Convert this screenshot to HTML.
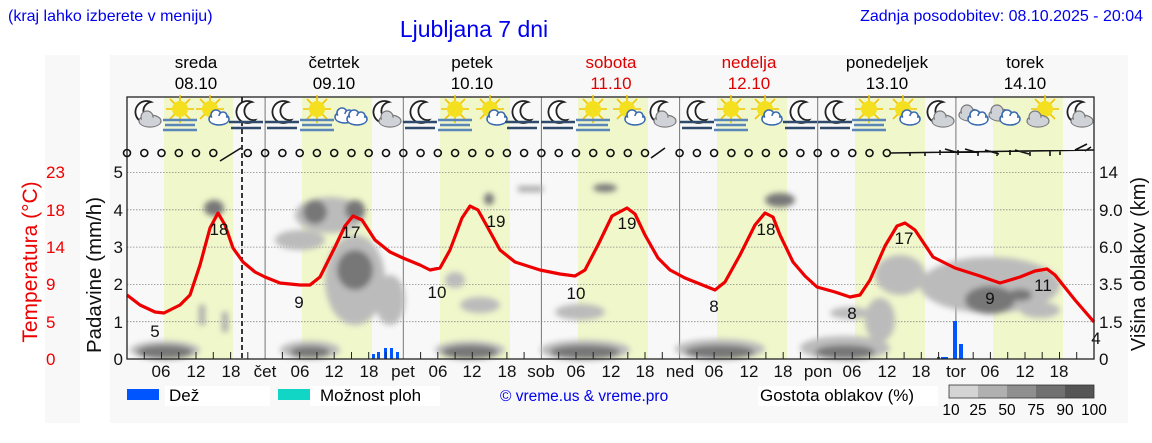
<!DOCTYPE html>
<html><head><meta charset="utf-8"><style>
body{margin:0;background:#fff;}
svg{display:block;font-family:"Liberation Sans",sans-serif;}
</style></head><body>
<svg width="1152" height="443" viewBox="0 0 1152 443" xmlns="http://www.w3.org/2000/svg">
<defs>
<filter id="bl" x="-50%" y="-50%" width="200%" height="200%"><feGaussianBlur stdDeviation="3"/></filter>
<g id="moon"><path d="M6,-11 A11,11 0 1 0 9,7 A9,9 0 1 1 6,-11 Z" fill="#fff" stroke="#222" stroke-width="1.8"/></g>
<g id="sun"><g stroke="#f2c500" stroke-width="1.6"><line x1="0" y1="-14" x2="0" y2="14"/><line x1="-14" y1="0" x2="14" y2="0"/><line x1="-10" y1="-10" x2="10" y2="10"/><line x1="-10" y1="10" x2="10" y2="-10"/></g><circle r="8" fill="#f5e020"/></g>
<g id="cl"><ellipse cx="0" cy="0" rx="10" ry="6" fill="#fff" stroke="#3a6ab0" stroke-width="1.6"/><circle cx="-3" cy="-4" r="5" fill="#fff" stroke="#3a6ab0" stroke-width="1.6"/><circle cx="4" cy="-3" r="4" fill="#fff" stroke="#3a6ab0" stroke-width="1.6"/><ellipse cx="0" cy="1" rx="9" ry="4" fill="#fff"/></g>
<g id="gcl"><ellipse cx="0" cy="0" rx="11" ry="6" fill="#cfd3d8" stroke="#777" stroke-width="1.2"/><circle cx="-3" cy="-4" r="6" fill="#cfd3d8" stroke="#777" stroke-width="1.2"/><ellipse cx="0" cy="1" rx="10" ry="4.5" fill="#cfd3d8"/></g>
<g id="fog"><g stroke="#5b86b8" stroke-width="2.5"><line x1="-17" y1="0" x2="17" y2="0"/><line x1="-15" y1="5" x2="15" y2="5"/><line x1="-17" y1="10" x2="17" y2="10"/></g></g>
<g id="nfog"><g stroke="#2f4a6b" stroke-width="2.5"><line x1="-17" y1="0" x2="17" y2="0"/><line x1="-15" y1="6" x2="15" y2="6"/></g></g>
</defs>
<rect width="1152" height="443" fill="#fff"/>
<rect x="45" y="55" width="35" height="368" fill="#f8f8f8"/>
<rect x="110" y="55" width="1018" height="368" fill="#f8f8f8"/>
<text x="8" y="21" font-size="16" fill="#0000ee">(kraj lahko izberete v meniju)</text>
<text x="474" y="37" font-size="23" fill="#0000ee" text-anchor="middle">Ljubljana 7 dni</text>
<text x="1143" y="21" font-size="16" fill="#0000ee" text-anchor="end">Zadnja posodobitev: 08.10.2025 - 20:04</text>
<g font-size="17" text-anchor="middle">
<text x="196" y="68">sreda</text><text x="196" y="89">08.10</text>
<text x="334" y="68">četrtek</text><text x="334" y="89">09.10</text>
<text x="472" y="68">petek</text><text x="472" y="89">10.10</text>
<text x="611" y="68" fill="#dd0000">sobota</text><text x="611" y="89" fill="#dd0000">11.10</text>
<text x="749" y="68" fill="#dd0000">nedelja</text><text x="749" y="89" fill="#dd0000">12.10</text>
<text x="887" y="68">ponedeljek</text><text x="887" y="89">13.10</text>
<text x="1025" y="68">torek</text><text x="1025" y="89">14.10</text>
</g>
<g fill="#f0f7cb">
<rect x="164" y="97" width="69" height="262"/><rect x="302" y="97" width="70" height="262"/>
<rect x="440" y="97" width="70" height="262"/><rect x="578" y="97" width="70" height="262"/>
<rect x="717" y="97" width="70" height="262"/><rect x="855" y="97" width="70" height="262"/>
<rect x="993" y="97" width="70" height="262"/>
</g>
<g stroke="#888" stroke-width="0.8" stroke-dasharray="1.5,1.5">
<line x1="127" x2="1094" y1="172.5" y2="172.5"/><line x1="127" x2="1094" y1="209.8" y2="209.8"/>
<line x1="127" x2="1094" y1="247.1" y2="247.1"/><line x1="127" x2="1094" y1="284.4" y2="284.4"/>
<line x1="127" x2="1094" y1="321.7" y2="321.7"/>
</g>
<g stroke="#777" stroke-width="1">
<line x1="265.1" x2="265.1" y1="97" y2="359"/><line x1="403.3" x2="403.3" y1="97" y2="359"/>
<line x1="541.4" x2="541.4" y1="97" y2="359"/><line x1="679.6" x2="679.6" y1="97" y2="359"/>
<line x1="817.7" x2="817.7" y1="97" y2="359"/><line x1="955.9" x2="955.9" y1="97" y2="359"/>
</g>
<g filter="url(#bl)">
<g fill="#bbb">
<ellipse cx="165" cy="350" rx="35" ry="9"/><ellipse cx="310" cy="350" rx="30" ry="9"/>
<ellipse cx="470" cy="350" rx="35" ry="9"/><ellipse cx="585" cy="350" rx="45" ry="10"/>
<ellipse cx="720" cy="349" rx="45" ry="10"/><ellipse cx="845" cy="348" rx="45" ry="12"/>
<ellipse cx="330" cy="215" rx="35" ry="18"/><ellipse cx="300" cy="240" rx="25" ry="10"/>
<ellipse cx="355" cy="280" rx="30" ry="45"/><ellipse cx="390" cy="300" rx="15" ry="25"/>
<ellipse cx="990" cy="285" rx="70" ry="28"/><ellipse cx="900" cy="275" rx="25" ry="20"/>
<ellipse cx="1040" cy="310" rx="20" ry="8"/><ellipse cx="880" cy="320" rx="15" ry="22"/>
<ellipse cx="850" cy="313" rx="20" ry="6"/><ellipse cx="480" cy="305" rx="20" ry="8"/>
<ellipse cx="580" cy="312" rx="25" ry="8"/><ellipse cx="455" cy="280" rx="10" ry="8"/>
</g>
<g fill="#777">
<ellipse cx="165" cy="352" rx="28" ry="7"/><ellipse cx="310" cy="352" rx="20" ry="6"/>
<ellipse cx="470" cy="352" rx="28" ry="7"/><ellipse cx="585" cy="352" rx="35" ry="7"/>
<ellipse cx="720" cy="352" rx="35" ry="7"/><ellipse cx="845" cy="352" rx="30" ry="7"/>
<ellipse cx="214" cy="208" rx="10" ry="8"/><ellipse cx="315" cy="212" rx="12" ry="12"/>
<ellipse cx="355" cy="210" rx="10" ry="10"/><ellipse cx="355" cy="270" rx="18" ry="20"/>
<ellipse cx="990" cy="300" rx="25" ry="14"/><ellipse cx="1020" cy="295" rx="12" ry="6"/>
<ellipse cx="780" cy="200" rx="15" ry="7"/><ellipse cx="605" cy="188" rx="12" ry="4"/>
<ellipse cx="489" cy="199" rx="5" ry="6"/>
</g>
<g fill="#aaa"><rect x="199" y="305" width="6" height="20"/><rect x="222" y="312" width="6" height="20"/><rect x="518" y="186" width="25" height="6"/></g>
</g>
<g fill="#0055ff">
<rect x="372" y="354" width="3" height="5"/><rect x="377" y="352" width="3" height="7"/><rect x="384" y="348" width="3" height="11"/><rect x="390" y="348" width="3" height="11"/><rect x="396" y="352" width="3" height="7"/>
<rect x="937" y="357" width="3" height="2"/><rect x="941" y="357" width="4" height="2"/><rect x="945" y="357" width="3" height="2"/>
<rect x="953" y="321" width="4" height="38"/><rect x="959" y="344" width="4" height="15"/>
</g>
<line x1="242" x2="242" y1="97" y2="359" stroke="#222" stroke-width="1.8" stroke-dasharray="5,3"/>
<path d="M127,295 L140,305 L155,312 L164,313 L180,305 L190,295 L200,265 L210,228 L218,213 L225,225 L233,248 L243,262 L255,272 L265,277 L280,283 L300,285 L310,285 L320,277 L335,247 L345,226 L353,216 L362,220 L375,240 L390,252 L403,258 L420,265 L430,270 L440,268 L450,250 L462,218 L470,206 L478,210 L488,228 L500,250 L515,262 L540,270 L560,274 L575,276 L585,270 L598,245 L612,216 L627,208 L635,214 L645,235 L658,258 L670,270 L685,278 L700,284 L715,290 L725,282 L740,255 L755,225 L765,213 L773,217 L780,235 L793,262 L805,276 L817,287 L835,292 L850,297 L860,295 L870,280 L885,246 L897,226 L905,223 L915,230 L933,257 L955,268 L980,276 L1000,283 L1020,277 L1035,271 L1047,269 L1055,275 L1075,300 L1094,322" fill="none" stroke="#ee0000" stroke-width="3.2" stroke-linejoin="round"/>
<g font-size="17" fill="#111" text-anchor="middle">
<text x="155" y="337">5</text><text x="219" y="235">18</text><text x="299" y="308">9</text>
<text x="351" y="238">17</text><text x="437" y="298">10</text><text x="496" y="227">19</text>
<text x="576" y="299">10</text><text x="627" y="229">19</text><text x="714" y="312">8</text>
<text x="766" y="235">18</text><text x="852" y="319">8</text><text x="904" y="244">17</text>
<text x="990" y="304">9</text><text x="1043" y="291">11</text><text x="1096" y="344">4</text>
</g>
<rect x="127" y="97" width="967" height="262" fill="none" stroke="#222" stroke-width="1.3"/>
<g stroke="#222" stroke-width="1">
<path d="M144.3,359v-7M161.5,359v-7M178.8,359v-7M196,359v-7M213.3,359v-7M230.6,359v-7M247.8,359v-7M282.4,359v-7M299.7,359v-7M316.9,359v-7M334.2,359v-7M351.5,359v-7M368.7,359v-7M386,359v-7M420.6,359v-7M437.8,359v-7M455.1,359v-7M472.3,359v-7M489.6,359v-7M506.9,359v-7M524.1,359v-7M558.7,359v-7M576,359v-7M593.2,359v-7M610.5,359v-7M627.8,359v-7M645,359v-7M662.3,359v-7M696.9,359v-7M714.1,359v-7M731.4,359v-7M748.6,359v-7M765.9,359v-7M783.2,359v-7M800.4,359v-7M835,359v-7M852.3,359v-7M869.5,359v-7M886.8,359v-7M904.1,359v-7M921.3,359v-7M938.6,359v-7M973.2,359v-7M990.4,359v-7M1007.7,359v-7M1025,359v-7M1042.2,359v-7M1059.5,359v-7M1076.7,359v-7"/>
</g>
<g font-size="17" text-anchor="middle" fill="#111">
<text x="161" y="377">06</text><text x="196" y="377">12</text><text x="231" y="377">18</text><text x="265" y="377">čet</text>
<text x="300" y="377">06</text><text x="334" y="377">12</text><text x="369" y="377">18</text><text x="403" y="377">pet</text>
<text x="438" y="377">06</text><text x="472" y="377">12</text><text x="507" y="377">18</text><text x="541" y="377">sob</text>
<text x="576" y="377">06</text><text x="611" y="377">12</text><text x="645" y="377">18</text><text x="680" y="377">ned</text>
<text x="714" y="377">06</text><text x="749" y="377">12</text><text x="783" y="377">18</text><text x="818" y="377">pon</text>
<text x="852" y="377">06</text><text x="887" y="377">12</text><text x="921" y="377">18</text><text x="956" y="377">tor</text>
<text x="990" y="377">06</text><text x="1025" y="377">12</text><text x="1059" y="377">18</text>
</g>
<g font-size="17" fill="#111" text-anchor="end">
<text x="123" y="365">0</text><text x="123" y="328">1</text><text x="123" y="290">2</text>
<text x="123" y="253">3</text><text x="123" y="216">4</text><text x="123" y="178">5</text>
</g>
<g font-size="17" fill="#ee0000" text-anchor="start">
<text x="46" y="365">0</text><text x="46" y="328">5</text><text x="46" y="290">9</text>
<text x="46" y="253">14</text><text x="46" y="216">18</text><text x="46" y="178">23</text>
</g>
<text transform="translate(37,262) rotate(-90)" font-size="21" fill="#ee0000" text-anchor="middle">Temperatura (°C)</text>
<text transform="translate(101,275) rotate(-90)" font-size="20.5" fill="#111" text-anchor="middle">Padavine (mm/h)</text>
<g font-size="17" fill="#111" text-anchor="start">
<text x="1099" y="365">0</text><text x="1099" y="328">1.5</text><text x="1099" y="290">3.5</text>
<text x="1099" y="253">6.0</text><text x="1099" y="216">9.0</text><text x="1099" y="178">14</text>
</g>
<text transform="translate(1145,264) rotate(-90)" font-size="20" fill="#111" text-anchor="middle">Višina oblakov (km)</text>
<g fill="none" stroke="#111" stroke-width="1.6">
<circle cx="127" cy="153" r="3.5"/><circle cx="144.3" cy="153" r="3.5"/><circle cx="161.5" cy="153" r="3.5"/><circle cx="178.8" cy="153" r="3.5"/><circle cx="196" cy="153" r="3.5"/><circle cx="213.3" cy="153" r="3.5"/>
<circle cx="247.8" cy="153" r="3.5"/><circle cx="265.1" cy="153" r="3.5"/><circle cx="282.4" cy="153" r="3.5"/><circle cx="299.7" cy="153" r="3.5"/><circle cx="316.9" cy="153" r="3.5"/><circle cx="334.2" cy="153" r="3.5"/><circle cx="351.5" cy="153" r="3.5"/><circle cx="368.7" cy="153" r="3.5"/><circle cx="386" cy="153" r="3.5"/><circle cx="403.3" cy="153" r="3.5"/><circle cx="420.6" cy="153" r="3.5"/><circle cx="437.8" cy="153" r="3.5"/><circle cx="455.1" cy="153" r="3.5"/><circle cx="472.3" cy="153" r="3.5"/><circle cx="489.6" cy="153" r="3.5"/><circle cx="506.9" cy="153" r="3.5"/><circle cx="524.1" cy="153" r="3.5"/><circle cx="541.4" cy="153" r="3.5"/><circle cx="558.7" cy="153" r="3.5"/><circle cx="576" cy="153" r="3.5"/><circle cx="593.2" cy="153" r="3.5"/><circle cx="610.5" cy="153" r="3.5"/><circle cx="627.8" cy="153" r="3.5"/><circle cx="645" cy="153" r="3.5"/>
<circle cx="679.6" cy="153" r="3.5"/><circle cx="696.9" cy="153" r="3.5"/><circle cx="714.1" cy="153" r="3.5"/><circle cx="731.4" cy="153" r="3.5"/><circle cx="748.6" cy="153" r="3.5"/><circle cx="765.9" cy="153" r="3.5"/><circle cx="783.2" cy="153" r="3.5"/><circle cx="800.4" cy="153" r="3.5"/><circle cx="817.7" cy="153" r="3.5"/><circle cx="835" cy="153" r="3.5"/><circle cx="852.3" cy="153" r="3.5"/><circle cx="869.5" cy="153" r="3.5"/><circle cx="886.8" cy="153" r="3.5"/>
<path d="M220,161 L241,148 M651,158 L665,148 M890,153 L1094,150 M910,152v4 M925,152v4 M940,150v5 M945,149 l14,4 M958,150v5 M965,149 l14,4 M978,151v5 M985,150 l14,4 M997,151v5 M1010,150v5 M1015,150 l14,4 M1030,151v5 M1050,151v5 M1060,150v5 M1075,150 l12,-6 M1085,151 l6,-4"/>
</g>
<g>
<use href="#moon" x="145" y="113"/><use href="#gcl" x="150" y="121"/>
<use href="#sun" x="180" y="109"/><use href="#fog" x="180" y="120"/>
<use href="#sun" x="210" y="109"/><use href="#cl" x="219" y="119"/>
<use href="#moon" x="246" y="113"/><use href="#nfog" x="246" y="122"/>
<use href="#moon" x="282" y="113"/><use href="#nfog" x="282" y="122"/>
<use href="#sun" x="317" y="109"/><use href="#fog" x="317" y="120"/>
<use href="#cl" x="345" y="117"/><use href="#cl" x="357" y="119"/>
<use href="#moon" x="383" y="113"/><use href="#gcl" x="390" y="121"/>
<use href="#moon" x="420" y="113"/><use href="#nfog" x="420" y="122"/>
<use href="#sun" x="455" y="109"/><use href="#fog" x="455" y="120"/>
<use href="#sun" x="490" y="109"/><use href="#cl" x="497" y="119"/>
<use href="#moon" x="522" y="113"/><use href="#nfog" x="522" y="122"/>
<use href="#moon" x="558" y="113"/><use href="#nfog" x="558" y="122"/>
<use href="#sun" x="593" y="109"/><use href="#fog" x="593" y="120"/>
<use href="#sun" x="627" y="109"/><use href="#cl" x="635" y="119"/>
<use href="#moon" x="660" y="113"/><use href="#gcl" x="665" y="121"/>
<use href="#moon" x="697" y="113"/><use href="#nfog" x="697" y="122"/>
<use href="#sun" x="731" y="109"/><use href="#fog" x="731" y="120"/>
<use href="#sun" x="765" y="109"/><use href="#cl" x="772" y="119"/>
<use href="#moon" x="800" y="113"/><use href="#nfog" x="800" y="122"/>
<use href="#moon" x="835" y="113"/><use href="#nfog" x="835" y="122"/>
<use href="#sun" x="869" y="109"/><use href="#fog" x="869" y="120"/>
<use href="#sun" x="903" y="109"/><use href="#cl" x="910" y="119"/>
<use href="#moon" x="937" y="113"/><use href="#gcl" x="943" y="121"/>
<use href="#gcl" x="970" y="115"/><use href="#cl" x="978" y="119"/>
<use href="#gcl" x="1000" y="115"/><use href="#cl" x="1010" y="119"/>
<use href="#sun" x="1045" y="109"/><use href="#gcl" x="1038" y="121"/>
<use href="#moon" x="1077" y="113"/><use href="#gcl" x="1082" y="121"/>
</g>
<rect x="127" y="389" width="32" height="11" fill="#0055ff"/>
<rect x="165" y="386" width="105" height="20" fill="#fff"/>
<text x="169" y="401" font-size="17">Dež</text>
<rect x="278" y="389" width="32" height="11" fill="#11d6c5"/>
<rect x="310" y="386" width="130" height="20" fill="#fff"/>
<text x="320" y="401" font-size="17">Možnost ploh</text>
<text x="500" y="401" font-size="15.5" fill="#0000ee">© vreme.us &amp; vreme.pro</text>
<rect x="758" y="386" width="180" height="20" fill="#fff"/>
<text x="760" y="401" font-size="17">Gostota oblakov (%)</text>
<rect x="949" y="385" width="29" height="13" fill="#d4d4d4"/><rect x="978" y="385" width="29" height="13" fill="#b0b0b0"/><rect x="1007" y="385" width="29" height="13" fill="#8f8f8f"/><rect x="1036" y="385" width="29" height="13" fill="#707070"/><rect x="1065" y="385" width="29" height="13" fill="#555"/>
<rect x="949" y="385" width="145" height="13" fill="none" stroke="#333" stroke-width="0.8"/>
<g font-size="15.5" text-anchor="middle"><text x="951" y="415">10</text><text x="978" y="415">25</text><text x="1007" y="415">50</text><text x="1036" y="415">75</text><text x="1065" y="415">90</text><text x="1094" y="415">100</text></g>
</svg>
</body></html>
